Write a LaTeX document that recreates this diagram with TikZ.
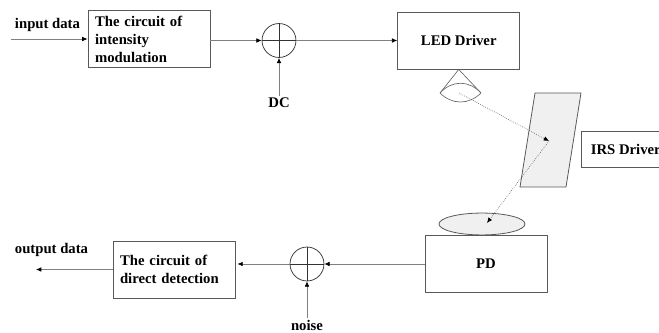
\documentclass[tikz,border=0pt]{standalone}
\usepackage{fontspec}
\setmainfont{Liberation Serif}
\usetikzlibrary{arrows.meta,shapes.geometric}
\tikzset{
 blockbox/.style={draw=black!65,line width=.7pt,minimum width=3.233cm,minimum height=1.51cm,inner xsep=.18cm,inner ysep=0pt},
 textbox/.style={blockbox,text width=2.86cm,align=left},
 sumnode/.style={circle,draw=black!80,line width=.55pt,minimum size=.9cm,inner sep=0pt},
 label/.style={inner sep=1pt},
 wire/.style={black!50,line width=.55pt,-{Latex[length=4pt,width=3.5pt,black]}},
 ray/.style={black!60,densely dotted,line width=.5pt},
}
\begin{document}
\begin{tikzpicture}[x=.0265cm,y=-.0265cm,font=\bfseries\fontsize{11.1}{13.6}\selectfont]
\clip (0,0) rectangle (659,333);
% transmitter
\node[textbox] (mod) at (149,39) {The circuit of\\intensity\\modulation};
\node[sumnode] (sumdc) at (279,40.5) {};
\node[blockbox,align=center] (led) at (458.75,40.5) {LED Driver};
\node[label] (indata) at (47.5,25) {input data};
\node[label] (dc) at (279,103) {DC};
\coordinate (instart) at (11,39);
\draw[wire] (instart)--(mod.west|-instart);
\draw[wire] (mod.east|-sumdc.west)--(sumdc.west);
\draw[wire] (sumdc.east)--(led.west|-sumdc.east);
\draw[wire] (dc.north)--(sumdc.south);
\draw[black!80,line width=.55pt] (sumdc.north)--(sumdc.south);
\draw[black!80,line width=.55pt] (sumdc.west)--(sumdc.east);
% lens
\coordinate (lensl) at (440,93);
\coordinate (lensr) at (481,93);
\coordinate (lensc) at (459,93);
\draw[black!60,line width=.5pt] (lensl)--(led.south)--(lensr);
\draw[black!60,line width=.5pt] (lensl) .. controls (452,80) and (469,80) .. (lensr);
\draw[black!60,line width=.5pt] (lensl) .. controls (452,105) and (469,105) .. (lensr);
% mirror
\draw[fill=black!6,draw=black!65,line width=.6pt] (535,93)--(581,93)--(566,187)--(520,187)--cycle;
\node[draw=black!65,line width=.6pt,anchor=west,minimum height=.95cm,inner ysep=0pt,inner xsep=.25cm] (irs) at (581,149) {IRS Driver};
% receiver
\node[ellipse,draw=black!65,fill=black!6,line width=.6pt,minimum width=2.28cm,minimum height=.58cm,inner sep=0pt] (lenspd) at (482,224) {};
\node[blockbox,align=center] (pd) at (486,263.5) {PD};
\node[textbox] (det) at (174,269.5) {The circuit of\\direct detection};
\node[sumnode] (sumn) at (307,264) {};
\node[label] (outdata) at (51.5,250) {output data};
\node[label] (noise) at (307,325) {noise};
\coordinate (outend) at (36,269.5);
\coordinate (bounce) at (549,141);
\coordinate (pdin) at (487,223);
\draw[ray,-{Latex[length=4pt,width=3.5pt,black]}] (lensc)--(bounce);
\draw[ray,-{Latex[length=4pt,width=3.5pt,black]}] (bounce)--(pdin);
\draw[wire] (pd.west|-sumn.east)--(sumn.east);
\draw[wire,shorten >=1.5pt] (sumn.west)--(det.east|-sumn.west);
\draw[wire] (det.west)--(outend);
\draw[wire] (noise.north)--(sumn.south);
\draw[black!80,line width=.55pt] (sumn.north)--(sumn.south);
\draw[black!80,line width=.55pt] (sumn.west)--(sumn.east);
\end{tikzpicture}
\end{document}
